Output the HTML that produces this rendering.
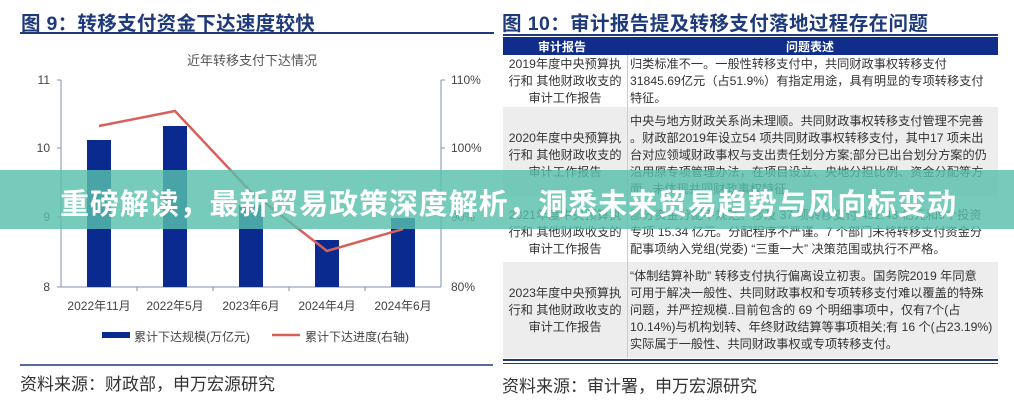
<!DOCTYPE html>
<html><head><meta charset="utf-8"><style>
body{margin:0;width:1014px;height:400px;background:#fff;overflow:hidden;position:relative;font-family:"Liberation Sans","Noto Sans CJK SC",sans-serif}
.a{position:absolute;white-space:nowrap}
.t{font-size:12.2px;color:#333;line-height:17px}
.h{font-size:19.5px;font-weight:bold;color:#1f3a7a}
</style></head><body>
<div class="a h" style="left:21px;top:7px;letter-spacing:0.3px">图 9：转移支付资金下达速度较快</div>
<div class="a" style="left:20px;top:32px;width:474px;height:2px;background:#1f3a7a"></div>
<svg class="a" style="left:0;top:0" width="500" height="400" font-family="Liberation Sans, Noto Sans CJK SC, sans-serif">
<text x="252" y="65" font-size="13" fill="#555" text-anchor="middle">近年转移支付下达情况</text>
<g stroke="#8090b0" stroke-width="1">
<line x1="61" y1="80" x2="61" y2="287"/><line x1="441" y1="80" x2="441" y2="287"/>
<line x1="61" y1="287" x2="441" y2="287"/>
<line x1="57" y1="80" x2="61" y2="80"/><line x1="57" y1="148" x2="61" y2="148"/><line x1="57" y1="217" x2="61" y2="217"/><line x1="57" y1="287" x2="61" y2="287"/>
<line x1="441" y1="80" x2="445" y2="80"/><line x1="441" y1="148" x2="445" y2="148"/><line x1="441" y1="217" x2="445" y2="217"/>
<line x1="137" y1="287" x2="137" y2="291"/><line x1="213" y1="287" x2="213" y2="291"/><line x1="289" y1="287" x2="289" y2="291"/><line x1="365" y1="287" x2="365" y2="291"/>
</g>
<g font-size="12" fill="#444">
<text x="50" y="84" text-anchor="end">11</text><text x="50" y="152" text-anchor="end">10</text><text x="50" y="221" text-anchor="end">9</text><text x="50" y="291" text-anchor="end">8</text>
<text x="451" y="84">110%</text><text x="451" y="152">100%</text><text x="451" y="221">90%</text><text x="451" y="291">80%</text>
<text x="99" y="310" text-anchor="middle">2022年11月</text><text x="175" y="310" text-anchor="middle">2022年5月</text><text x="251" y="310" text-anchor="middle">2023年6月</text><text x="327" y="310" text-anchor="middle">2024年4月</text><text x="403" y="310" text-anchor="middle">2024年6月</text>
<text x="134" y="341">累计下达规模(万亿元)</text><text x="305" y="341">累计下达进度(右轴)</text>
</g>
<g fill="#0a2a8f">
<rect x="87" y="140" width="24" height="147"/><rect x="163" y="126" width="24" height="161"/><rect x="239" y="205" width="24" height="82"/><rect x="315" y="240" width="24" height="47"/><rect x="391" y="218" width="24" height="69"/>
<rect x="102" y="332" width="28" height="6"/>
</g>
<polyline points="99,126 175,111 251,192 327,251 403,229" fill="none" stroke="#d9605a" stroke-width="2.5"/>
<line x1="272" y1="335" x2="300" y2="335" stroke="#d9605a" stroke-width="2.5"/>
<line x1="20" y1="365" x2="493" y2="365" stroke="#1f3a7a" stroke-width="1.5"/>
<text x="20" y="390" font-size="17" fill="#333">资料来源：财政部，申万宏源研究</text>
</svg>

<div class="a h" style="left:502px;top:7px;letter-spacing:0.4px">图 10：审计报告提及转移支付落地过程存在问题</div>
<div class="a" style="left:503px;top:34px;width:495px;height:2px;background:#1f3a7a"></div>
<div class="a" style="left:503px;top:37px;width:495px;height:18px;background:#102d8a"></div>
<div class="a" style="left:503px;top:107px;width:495px;height:89px;background:#ededed"></div>
<div class="a" style="left:503px;top:262px;width:495px;height:96px;background:#ededed"></div>
<div class="a" style="left:627px;top:55px;width:1px;height:303px;background:#ccc"></div>
<div class="a" style="left:503px;top:359px;width:495px;height:2px;background:#1f3a7a"></div>
<div class="a" style="left:503px;top:363px;width:495px;height:1px;background:#1f3a7a"></div>
<div class="a" style="left:538px;top:38px;font-size:12px;font-weight:bold;color:#fff">审计报告</div>
<div class="a" style="left:786px;top:38px;font-size:12px;font-weight:bold;color:#fff">问题表述</div>

<div class="a t" style="left:505px;width:120px;top:56px;text-align:center">2019年度中央预算执<br>行和 其他财政收支的<br>审计工作报告</div>
<div class="a t" style="left:630px;top:56px">归类标准不一。一般性转移支付中，共同财政事权转移支付<br>31845.69亿元（占51.9%）有指定用途，具有明显的专项转移支付<br>特征。</div>

<div class="a t" style="left:505px;width:120px;top:130px;text-align:center">2020年度中央预算执<br>行和 其他财政收支的<br>审计工作报告</div>
<div class="a t" style="left:630px;top:113px">中央与地方财政关系尚未理顺。共同财政事权转移支付管理不完善<br>。财政部2019年设立54 项共同财政事权转移支付，其中17 项未出<br>台对应领域财政事权与支出责任划分方案;部分已出台划分方案的仍<br>沿用原专项管理办法，在项目设立、央地分担比例、资金分配等方<br>面...未体现共同财政事权特征</div>

<div class="a t" style="left:505px;width:120px;top:207px;text-align:center">2021年度中央预算执<br>行和 其他财政收支的<br>审计工作报告</div>
<div class="a t" style="left:630px;top:207px">部分资金分配不规范。涉及 37 项转移支付 452.43 亿元和9个投资<br>专项 15.34 亿元。分配程序不严谨。7 个部门未将转移支付资金分<br>配事项纳入党组(党委) “三重一大” 决策范围或执行不严格。</div>

<div class="a t" style="left:505px;width:120px;top:285px;text-align:center">2023年度中央预算执<br>行和 其他财政收支的<br>审计工作报告</div>
<div class="a t" style="left:630px;top:268px">“体制结算补助” 转移支付执行偏离设立初衷。国务院2019 年同意<br>可用于解决一般性、共同财政事权和专项转移支付难以覆盖的特殊<br>问题，并严控规模..目前包含的 69 个明细事项中，仅有7个(占<br>10.14%)与机构划转、年终财政结算等事项相关;有 16 个(占23.19%)<br>实际属于一般性、共同财政事权或专项转移支付。</div>
<div class="a" style="left:502px;top:372px;font-size:17px;color:#333">资料来源：审计署，申万宏源研究</div>

<div class="a" style="left:0;top:170px;width:1014px;height:59px;background:rgba(88,192,172,0.82)"></div>
<div class="a" style="left:60px;top:181px;font-size:29px;font-weight:bold;color:#fff;letter-spacing:0.9px">重磅解读，最新贸易政策深度解析，洞悉未来贸易趋势与风向标变动</div>
</body></html>
